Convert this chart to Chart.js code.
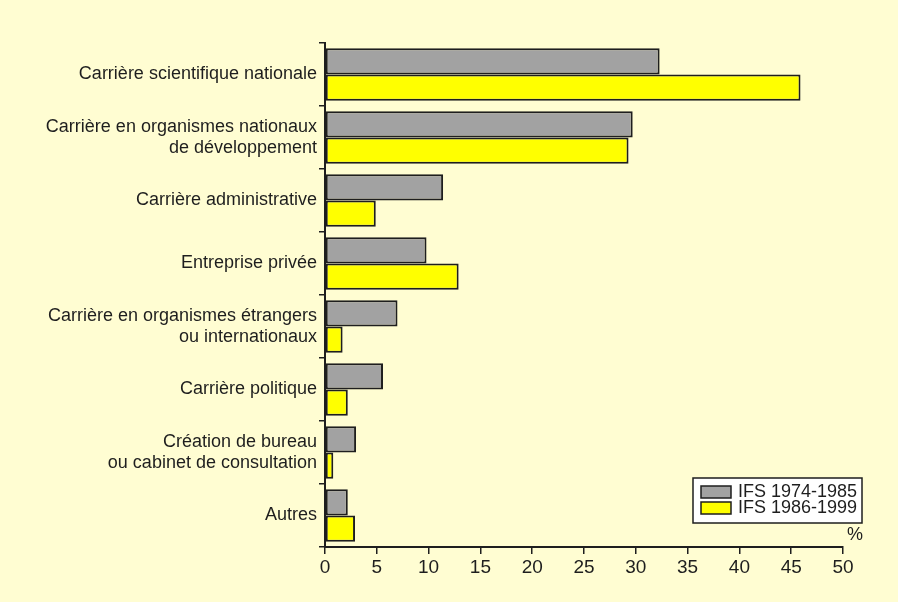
<!DOCTYPE html>
<html>
<head>
<meta charset="utf-8">
<script src="https://cdn.jsdelivr.net/npm/chart.js@4.4.0/dist/chart.umd.min.js"></script>
<style>
  html, body { margin: 0; padding: 0; background: #fffdd2; }
  #wrap { width: 898px; height: 602px; }
</style>
</head>
<body>
<div id="wrap"><canvas id="myChart" width="898" height="602"></canvas></div>
<script>
const categories = [
  "Carrière scientifique nationale",
  ["Carrière en organismes nationaux", "de développement"],
  "Carrière administrative",
  "Entreprise privée",
  ["Carrière en organismes étrangers", "ou internationaux"],
  "Carrière politique",
  ["Création de bureau", "ou cabinet de consultation"],
  "Autres",
];

const ifs7485 = [32.3, 29.7, 11.4, 9.8, 7.0, 5.6, 3.0, 2.2];
const ifs8699 = [45.9, 29.3, 4.9, 12.9, 1.7, 2.2, 0.8, 2.9];

const seriesNames = ["IFS 1974-1985", "IFS 1986-1999"];
const xTicks = [0, 5, 10, 15, 20, 25, 30, 35, 40, 45, 50];

const font = "'Liberation Sans Narrow', 'Arial Narrow', 'Liberation Sans', sans-serif";
const ink = "#1e1e1e";

// background + custom legend box in the lower right
const extras = {
  id: "extras",
  beforeDraw(chart) {
    const c = chart.ctx;
    c.save();
    c.fillStyle = "#fffdd2";
    c.fillRect(0, 0, chart.width, chart.height);
    c.restore();
  },
  afterDraw(chart) {
    const c = chart.ctx;
    const ds = chart.data.datasets;
    c.save();
    c.fillStyle = "#fff";
    c.strokeStyle = ink;
    c.lineWidth = 1.5;
    c.fillRect(693, 478, 169, 45);
    c.strokeRect(693, 478, 169, 45);
    c.font = "18px " + font;
    c.textBaseline = "middle";
    ds.forEach((d, i) => {
      const y = 486 + i * 16;
      c.fillStyle = d.backgroundColor;
      c.fillRect(701, y, 30, 12);
      c.strokeRect(701, y, 30, 12);
      c.fillStyle = ink;
      c.fillText(d.label, 738, y + 6.5);
    });
    c.textAlign = "right";
    c.fillText("%", 863, 535);
    c.restore();
  },
};

const ctx = document.getElementById("myChart");

new Chart(ctx, {
  type: "bar",
  data: {
    labels: categories,
    datasets: [
      {
        label: seriesNames[0],
        data: ifs7485,
        backgroundColor: "#a2a2a2",
        borderColor: ink,
        borderWidth: 2,
        borderSkipped: false,
      },
      {
        label: seriesNames[1],
        data: ifs8699,
        backgroundColor: "#ffff00",
        borderColor: ink,
        borderWidth: 2,
        borderSkipped: false,
      },
    ],
  },
  options: {
    indexAxis: "y",
    responsive: false,
    animation: false,
    categoryPercentage: 0.83,
    barPercentage: 1.0,
    layout: { padding: { left: 0, right: 55, top: 43, bottom: 0 } },
    plugins: {
      legend: { display: false },
      tooltip: { enabled: false },
    },
    scales: {
      y: {
        grid: {
          offset: true,
          drawOnChartArea: false,
          tickLength: 6,
          color: ink,
          lineWidth: 1.5,
        },
        border: { color: ink, width: 2 },
        ticks: {
          color: ink,
          padding: 2,
          font: { family: font, size: 18 },
        },
        afterFit(scale) {
          scale.width = 325;
        },
      },
      x: {
        min: 0,
        max: 50,
        afterBuildTicks(scale) {
          scale.ticks = xTicks.map((v) => ({ value: v }));
        },
        grid: {
          drawOnChartArea: false,
          tickLength: 7,
          color: ink,
          lineWidth: 1.5,
        },
        border: { color: ink, width: 2 },
        ticks: {
          color: ink,
          padding: 2,
          font: { family: font, size: 19 },
        },
        afterFit(scale) {
          scale.height = 55;
        },
      },
    },
  },
  plugins: [extras],
});
</script>
</body>
</html>
